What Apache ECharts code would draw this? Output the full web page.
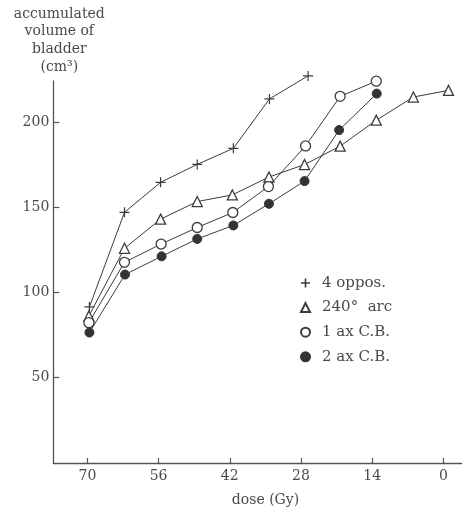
<!DOCTYPE html>
<html>
<head>
<meta charset="utf-8">
<script src="https://cdn.jsdelivr.net/npm/echarts@6/dist/echarts.min.js"></script>
<style>
  html, body { margin: 0; padding: 0; background: #ffffff; }
  #chart { width: 466px; height: 512px; }
</style>
</head>
<body>
<div id="chart"></div>
<script>
// Dose axis ticks (Gy) and volume axis ticks (cm3)
const doseTicks = [0, 14, 28, 42, 56, 70];
const volumeTicks = [50, 100, 150, 200];

// Four oppositional fields
const opposDose = [69.6, 62.7, 55.6, 48.4, 41.3, 34.2, 26.6];
const opposVol  = [91.5, 147, 164.6, 175.1, 184.5, 213.5, 227];

// 240 degree arc
const arcDose = [69.7, 62.7, 55.6, 48.4, 41.5, 34.3, 27.3, 20.3, 13.2, 5.9, -1.0];
const arcVol  = [86.2, 125.9, 143, 153.3, 157.2, 167.7, 175, 185.8, 201, 214.6, 218.5];

// 1 axis conformation boost
const cb1Dose = [69.7, 62.7, 55.5, 48.4, 41.4, 34.4, 27.1, 20.3, 13.2];
const cb1Vol  = [82.3, 117.7, 128.4, 138.1, 146.9, 162.1, 185.9, 215, 223.9];

// 2 axis conformation boost
const cb2Dose = [69.6, 62.6, 55.4, 48.4, 41.3, 34.3, 27.3, 20.5, 13.1];
const cb2Vol  = [76.5, 110.5, 121.2, 131.4, 139.3, 152, 165.3, 195.2, 216.6];

const seriesNames = ['4 oppos.', '240°  arc', '1 ax C.B.', '2 ax C.B.'];

const pairs = (xs, ys) => xs.map((x, i) => [x, ys[i]]);

const ink = '#3c3c3c';
const textInk = '#4a4a4a';
const font = 'DejaVu Serif';
const plusPath = 'path://M0,4.4H10V5.6H0Z M4.4,0H5.6V10H4.4Z';
const legendPlusPath = 'path://M0,4.1H10V5.9H0Z M4.1,0H5.9V10H4.1Z';

const lineBase = {
  type: 'line',
  clip: false,
  lineStyle: { color: ink, width: 1 },
  emphasis: { disabled: true },
  animation: false
};

const chart = echarts.init(document.getElementById('chart'), null, { renderer: 'canvas' });
chart.setOption({
  backgroundColor: '#ffffff',
  animation: false,
  grid: { left: 53.3, right: 4.3, top: 81, bottom: 49, containLabel: false, outerBoundsMode: 'none' },
  xAxis: {
    type: 'value',
    inverse: true,
    min: -3.6,
    max: 76.7,
    name: 'dose (Gy)',
    nameLocation: 'middle',
    nameGap: 30,
    nameTextStyle: { fontFamily: font, fontSize: 14, color: textInk, padding: [0, 0, 0, 16] },
    axisLine: { onZero: false, lineStyle: { color: '#555', width: 1.3 } },
    axisTick: { inside: true, length: 5, customValues: doseTicks, lineStyle: { color: '#555', width: 1.2 } },
    axisLabel: { customValues: doseTicks, margin: 6, fontFamily: font, fontSize: 14, color: textInk },
    splitLine: { show: false }
  },
  yAxis: {
    type: 'value',
    min: 0,
    max: 224,
    name: 'accumulated\nvolume of\nbladder\n(cm³)',
    nameLocation: 'end',
    nameGap: 5,
    nameTextStyle: { fontFamily: font, fontSize: 14, lineHeight: 17.7, color: textInk, align: 'center', padding: [0, 0, 0, 12] },
    axisLine: { onZero: false, lineStyle: { color: '#555', width: 1.3 } },
    axisTick: { inside: true, length: 6, customValues: volumeTicks, lineStyle: { color: '#555', width: 1.2 } },
    axisLabel: { customValues: volumeTicks, margin: 4, fontFamily: font, fontSize: 14, color: textInk },
    splitLine: { show: false }
  },
  legend: {
    orient: 'vertical',
    left: 295,
    top: 269,
    itemWidth: 9,
    itemHeight: 9,
    itemGap: 6.6,
    selectedMode: false,
    textStyle: { fontFamily: font, fontSize: 15, lineHeight: 18, color: textInk, padding: [0, 0, 0, 7] },
    data: [
      { name: seriesNames[0], icon: legendPlusPath },
      { name: seriesNames[1], icon: 'triangle' },
      { name: seriesNames[2], icon: 'circle' },
      { name: seriesNames[3], icon: 'circle' }
    ]
  },
  series: [
    Object.assign({}, lineBase, {
      name: seriesNames[0],
      data: pairs(opposDose, opposVol),
      symbol: plusPath,
      symbolSize: 10,
      itemStyle: { color: ink }
    }),
    Object.assign({}, lineBase, {
      name: seriesNames[1],
      data: pairs(arcDose, arcVol),
      symbol: 'triangle',
      symbolSize: 10,
      itemStyle: { color: '#ffffff', borderColor: ink, borderWidth: 1.3 }
    }),
    Object.assign({}, lineBase, {
      name: seriesNames[2],
      data: pairs(cb1Dose, cb1Vol),
      symbol: 'circle',
      symbolSize: 10,
      itemStyle: { color: '#ffffff', borderColor: ink, borderWidth: 1.3 }
    }),
    Object.assign({}, lineBase, {
      name: seriesNames[3],
      data: pairs(cb2Dose, cb2Vol),
      symbol: 'circle',
      symbolSize: 9,
      itemStyle: { color: '#333333', borderColor: '#333333', borderWidth: 1 }
    })
  ]
});
</script>
</body>
</html>
